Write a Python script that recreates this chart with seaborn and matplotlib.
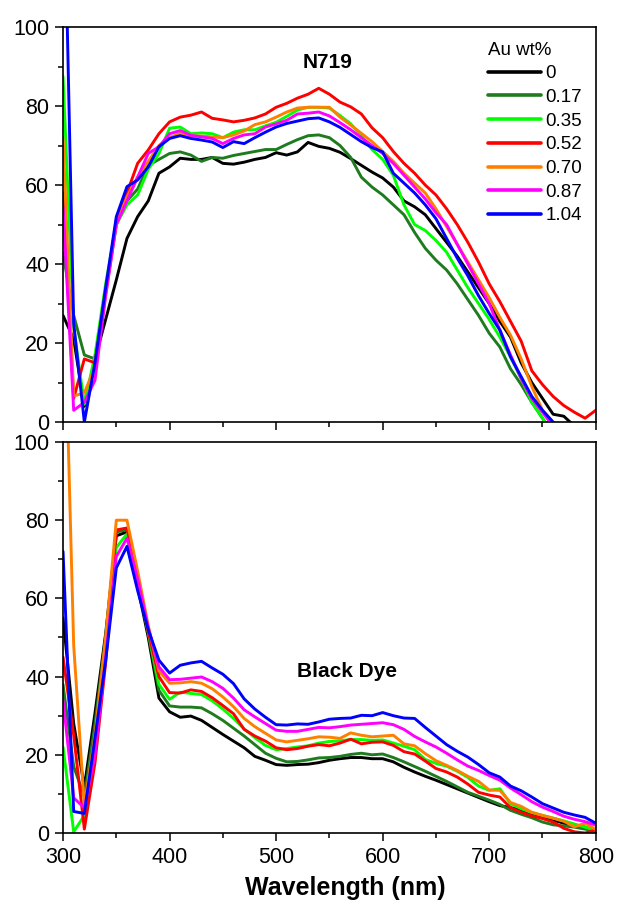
import numpy as np
import pandas as pd
import matplotlib
matplotlib.use('Agg')
import matplotlib.pyplot as plt
import seaborn as sns

# wavelength grid (nm)
wavelength = list(range(300, 801, 10))

au_labels = ['0', '0.17', '0.35', '0.52', '0.70', '0.87', '1.04']
au_colors = ['#000000', '#1e7b1e', '#00ff00', '#ff0000', '#ff8000', '#ff00ff', '#0000ff']

# N719 panel
n719_0 = [27, 21, 4, 16, 26, 36, 46.5, 52, 56, 63, 64.6, 66.8, 66.5, 66.5, 67, 65.5, 65.3,
          65.8, 66.5, 67, 68.2, 67.6, 68.4, 70.8, 69.8, 69.3, 68.3, 66.7, 65, 63.3, 61.8, 59.5,
          56, 54.5, 52.5, 49, 45.5, 42, 38, 34, 30, 25.5, 21.5, 15, 10, 6, 2, 1.5, -1, -4, -7]
n719_017 = [42.7, 27, 17, 16, 33, 50, 56, 59, 65, 66.5, 68, 68.4, 67.6, 66, 67, 66.8, 67.5,
            68, 68.5, 69, 69, 70.3, 71.5, 72.5, 72.7, 72, 70, 67, 62, 59.5, 57.5, 55, 52.5,
            48, 44, 41, 38.5, 35, 31, 27, 22.5, 19, 13.5, 9.5, 5, 1, -3, -6, -9, -12, -15]
n719_035 = [87.5, 24, 4.5, 17, 35, 50, 55, 57.5, 64, 68, 74.4, 74.7, 73, 73.2, 73, 72, 73.4,
            74, 74, 75, 75.9, 77.4, 79, 79.7, 79.7, 79.5, 77.6, 75.5, 72.5, 69, 66.5, 62.5,
            55, 50, 48.5, 46, 43, 38.5, 34, 30, 26, 21.5, 16.5, 11, 5, 1, -3, -6, -9, -12, -15]
n719_052 = [58, 6, 16, 15, 33, 51, 58, 65.5, 68.9, 73, 76, 77.2, 77.7, 78.5, 76.9, 76.5, 76,
            76.4, 77, 78, 79.7, 80.7, 82, 83, 84.5, 83, 81, 79.8, 78, 74.5, 72, 68.5, 65.5,
            63, 60, 57.5, 54, 50, 45.5, 40.5, 35, 30.5, 25.5, 20.5, 13, 9.5, 6.5, 4.2, 2.5, 1, 3]
n719_070 = [72, 6.6, 7.4, 14, 32, 50, 57, 62, 66, 70, 72, 73.1, 72.4, 72.4, 72.2, 72, 72.7,
            73.7, 75.3, 76, 77.2, 78.5, 79.5, 79.7, 79.7, 79.7, 77.2, 75.2, 73.1, 71, 68.5, 66,
            63, 60.5, 58, 54, 49.5, 45, 40.5, 36, 31.5, 26.5, 22, 16, 9, 3, 0, -3, -6, -9, -12]
n719_087 = [54.5, 3, 5, 10.6, 32, 50, 56, 62, 68, 69.7, 73, 73.8, 72.6, 72.2, 71.8, 70.5, 71.8,
            72.7, 73, 74.7, 75.5, 76.4, 78, 78.2, 78.5, 77.5, 75.8, 74, 72, 70, 68, 65.5, 62.5,
            59.5, 56.5, 53, 50, 45, 40, 35, 30, 23.3, 17, 11, 6, 2.5, -1, -4, -7, -10, -13]
n719_104 = [150, 25, 0, 15, 34, 52, 59.6, 61.3, 64.6, 69.7, 71.8, 72.5, 71.8, 71.4, 70.9, 69.5,
            71, 70.5, 72, 73.4, 74.7, 75.6, 76.2, 76.8, 77, 76, 74.6, 72.8, 71, 69.5, 68.4, 63,
            60.5, 58, 55, 51.5, 46.5, 41.5, 37, 32, 27.5, 23.3, 16.5, 11.5, 6.5, 3, 0, -3, -6, -9, -12]

# Black Dye panel
bd_0 = [55, 28, 11.8, 30.7, 51, 76, 77, 63, 50, 34.5, 31, 29.6, 29.9, 28.8, 27, 25.2, 23.5,
        21.8, 19.6, 18.6, 17.5, 17.3, 17.5, 17.6, 18, 18.6, 19, 19.3, 19.3, 19, 19, 18.2, 16.8,
        15.6, 14.5, 13.5, 12.4, 11.3, 10.2, 9.1, 8, 7, 6.5, 5.8, 5, 4, 3.3, 2.5, 2.1, 1.5, 0.3]
bd_017 = [38, 17, 9.3, 28, 50, 77, 77.5, 64, 51, 36.5, 32.5, 32.2, 32.2, 32, 30.5, 28.8, 26.8,
          24.8, 22.6, 20.4, 19.1, 18.2, 18.3, 18.7, 19.2, 19.3, 19.6, 20.1, 20.4, 20, 20.2,
          19.3, 18.2, 17, 15.8, 14.5, 13.2, 11.8, 10.4, 9.4, 8.4, 7.3, 5.8, 4.8, 3.9, 2.8, 2.1,
          1.8, 1.5, 1, 0.5]
bd_035 = [22, 0.3, 4.5, 24, 48, 73, 76.5, 64.5, 51.5, 38, 34.2, 36, 35.7, 35.4, 33.8, 31.7,
          29.3, 26.6, 24.4, 22.4, 21.3, 21.6, 22, 22.3, 23, 23.4, 23.6, 23.9, 23.9, 23.7, 23.8,
          23, 22.2, 21.3, 18.8, 17.8, 17.1, 15.8, 14.2, 12, 10.9, 11.3, 7.5, 6.2, 5.2, 4.5,
          3.8, 3.1, 2.3, 1.5, 0.6]
bd_052 = [45, 25, 1, 18, 43.5, 77.5, 78, 64.5, 51.5, 40, 35.9, 35.8, 36.6, 36.2, 34.6, 32.6,
          30.5, 26.5, 24.8, 23.5, 21.8, 21.3, 21.6, 22.2, 22.6, 22.3, 23, 24, 22.8, 23.2, 23.3,
          22.4, 20.8, 20.2, 18.4, 16.5, 15.6, 14.3, 12.5, 10.4, 9.7, 9.2, 6.5, 5.3, 4.4, 3.7,
          2.8, 1.2, 0.3, 0, 0.8]
bd_070 = [150, 48, 7, 25, 50, 80, 80, 67, 53, 41.5, 38.3, 38.4, 38.7, 38.3, 36.9, 34.8, 32.3,
          29.3, 27.2, 25.5, 23.8, 23.3, 23.7, 24.1, 24.6, 24.5, 24.2, 25.6, 25, 24.6, 24.8, 25,
          22.8, 22.3, 20.3, 18.5, 17.3, 16, 14.5, 13.2, 11, 10.9, 7.8, 6.8, 5.3, 4.5, 3.8, 3,
          1.6, 2.5, 0.9]
bd_087 = [34, 9, 6.4, 20, 45, 70.7, 75.4, 65, 52.5, 42.5, 39.2, 39.3, 39.6, 39.9, 38.7, 37,
          34.5, 31.5, 29.7, 28, 26.3, 26, 26, 26.5, 27, 26.9, 27.2, 27.6, 27.8, 28, 28.2, 27.7,
          26.5, 24.7, 23.3, 22, 20.4, 18.7, 17.1, 16, 14.7, 13.5, 11.5, 9.8, 8, 6.6, 5.5, 4.3,
          3.5, 2.9, 2]
bd_104 = [72, 5.5, 5, 24.3, 44, 67.8, 73.3, 62, 52, 44.2, 40.9, 42.9, 43.5, 43.9, 42.2, 40.6,
          38.2, 34.3, 31.7, 29.6, 27.7, 27.6, 27.9, 27.8, 28.4, 29.1, 29.3, 29.4, 30.1, 30, 30.8,
          30, 29.4, 29.3, 27, 24.8, 22.6, 20.9, 19.4, 17.5, 15.4, 14.3, 12, 10.8, 9.2, 7.5, 6.4,
          5.3, 4.6, 4, 2.5]

n719_series = [n719_0, n719_017, n719_035, n719_052, n719_070, n719_087, n719_104]
bd_series = [bd_0, bd_017, bd_035, bd_052, bd_070, bd_087, bd_104]


def to_long(series):
    frames = []
    for lab, vals in zip(au_labels, series):
        frames.append(pd.DataFrame({'wl': wavelength, 'val': vals, 'Au': lab}))
    return pd.concat(frames, ignore_index=True)


sns.set_style('ticks')
plt.rcParams['font.family'] = ['Liberation Sans', 'DejaVu Sans']
plt.rcParams['text.color'] = 'black'
plt.rcParams['axes.labelcolor'] = 'black'
plt.rcParams['xtick.color'] = 'black'
plt.rcParams['ytick.color'] = 'black'

palette = dict(zip(au_labels, au_colors))

fig = plt.figure(figsize=(6.18, 9.02), dpi=100)
ax1 = fig.add_axes([0.102, 0.532, 0.862, 0.438])
ax2 = fig.add_axes([0.102, 0.0765, 0.862, 0.4335])

sns.lineplot(data=to_long(n719_series), x='wl', y='val', hue='Au', hue_order=au_labels,
             palette=palette, linewidth=2.1, ax=ax1, legend=True)
sns.lineplot(data=to_long(bd_series), x='wl', y='val', hue='Au', hue_order=au_labels,
             palette=palette, linewidth=2.1, ax=ax2, legend=False)

for ax in (ax1, ax2):
    ax.set_xlim(300, 800)
    ax.set_ylim(0, 100)
    ax.set_xticks(range(300, 801, 100))
    ax.set_xticks(range(350, 800, 100), minor=True)
    ax.set_yticks(range(0, 101, 20))
    ax.set_yticks(range(10, 100, 20), minor=True)
    ax.tick_params(which='major', direction='out', length=6, width=1.1, labelsize=15.5,
                   pad=4, color='black', labelcolor='black')
    ax.tick_params(which='minor', direction='out', length=3.5, width=1.1, color='black')
    ax.set_xlabel('')
    ax.set_ylabel('')
    for sp in ax.spines.values():
        sp.set_visible(True)
        sp.set_linewidth(1.2)
        sp.set_color('black')

ax1.tick_params(labelbottom=False)

ax1.text(0.497, 0.911, 'N719', transform=ax1.transAxes, ha='center', va='center',
         fontsize=15, fontweight='bold', color='black')
ax2.text(0.533, 0.412, 'Black Dye', transform=ax2.transAxes, ha='center', va='center',
         fontsize=15, fontweight='bold', color='black')

handles, labels = ax1.get_legend_handles_labels()
leg = ax1.legend(handles, labels, title='Au wt%', loc='upper right',
                 bbox_to_anchor=(0.975, 0.963), frameon=False, fontsize=13.5,
                 title_fontsize=13.5, handlelength=2.8, handletextpad=0.25,
                 labelspacing=0.35, borderpad=0, borderaxespad=0, alignment='left')
for line in leg.get_lines():
    line.set_linewidth(2.6)

fig.text(0.558, 0.0155, 'Wavelength (nm)', ha='center', va='center', fontsize=18,
         fontweight='bold', color='black')

fig.savefig('out.png', dpi=100)
